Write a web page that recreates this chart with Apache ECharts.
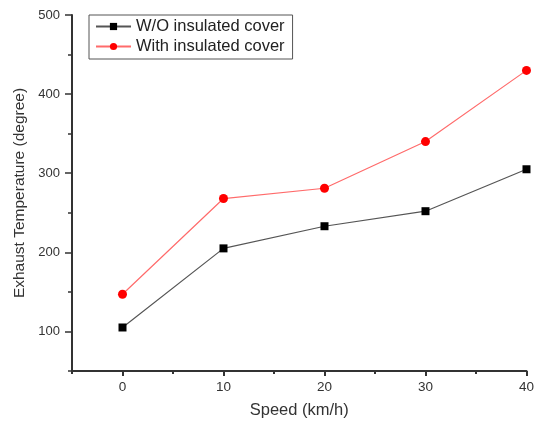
<!DOCTYPE html>
<html>
<head>
<meta charset="utf-8">
<script src="https://cdn.jsdelivr.net/npm/echarts@6/dist/echarts.min.js"></script>
<style>html,body{margin:0;padding:0;background:#fff;}#c{width:537px;height:424px;}</style>
</head>
<body>
<div id="c"></div>
<script>
const speeds = [0, 10, 20, 30, 40];
const withoutCover = [105, 205, 233, 252, 305];
const withCover = [147, 268, 281, 340, 430];
const xMajor = [0, 10, 20, 30, 40];
const xMinor = [-5, 5, 15, 25, 35];
const yMajor = [100, 200, 300, 400, 500];
const yMinor = [50, 150, 250, 350, 450];
const seriesNames = ['W/O insulated cover', 'With insulated cover'];

const FONT = '"Liberation Sans", Arial, sans-serif';
const AX = '#333';
const chart = echarts.init(document.getElementById('c'), null, {renderer: 'canvas'});

function pairs(ys) { return speeds.map((s, i) => [s, ys[i]]); }

chart.setOption({
  animation: false,
  backgroundColor: '#fff',
  textStyle: {fontFamily: FONT},
  grid: {left: 72, top: 15, right: 8, bottom: 51, containLabel: false},
  legend: {
    orient: 'vertical', left: 89, top: 15,
    borderColor: '#555', borderWidth: 1, padding: [3, 8, 4, 6],
    itemWidth: 35, itemHeight: 9, itemGap: 3,
    textStyle: {fontSize: 16.5, color: '#222', fontFamily: FONT, lineHeight: 16},
    data: seriesNames
  },
  xAxis: [{
    type: 'value', min: -5, max: 40,
    name: 'Speed (km/h)', nameLocation: 'middle', nameGap: 31,
    nameTextStyle: {fontSize: 16.5, color: '#333', fontFamily: FONT},
    axisLine: {show: true, onZero: false, lineStyle: {color: AX, width: 2}},
    axisTick: {show: true, inside: false, length: 5, customValues: xMajor, lineStyle: {color: AX, width: 2}},
    axisLabel: {show: true, customValues: xMajor, fontSize: 13.5, color: '#333', margin: 9, fontFamily: FONT},
    splitLine: {show: false}
  }, {
    type: 'value', min: -5, max: 40, position: 'bottom',
    axisLine: {show: false, onZero: false},
    axisTick: {show: true, inside: false, length: 3, customValues: xMinor, lineStyle: {color: AX, width: 2}},
    axisLabel: {show: false},
    splitLine: {show: false}
  }],
  yAxis: [{
    type: 'value', min: 50, max: 500,
    name: 'Exhaust Temperature (degree)', nameLocation: 'middle', nameGap: 42, nameRotate: 90,
    nameTextStyle: {fontSize: 15.5, color: '#333', fontFamily: FONT},
    axisLine: {show: true, onZero: false, lineStyle: {color: AX, width: 2}},
    axisTick: {show: true, inside: false, length: 7, customValues: yMajor, lineStyle: {color: AX, width: 1.5}},
    axisLabel: {show: true, customValues: yMajor, fontSize: 13, color: '#333', margin: 12, fontFamily: FONT},
    splitLine: {show: false}
  }, {
    type: 'value', min: 50, max: 500, position: 'left',
    axisLine: {show: false, onZero: false},
    axisTick: {show: true, inside: false, length: 4, customValues: yMinor, lineStyle: {color: AX, width: 1.5}},
    axisLabel: {show: false},
    splitLine: {show: false}
  }],
  series: [{
    name: seriesNames[0], type: 'line', xAxisIndex: 0, yAxisIndex: 0,
    data: pairs(withoutCover),
    symbol: 'rect', symbolSize: 8,
    itemStyle: {color: '#000'},
    lineStyle: {color: '#555', width: 1.2}
  }, {
    name: seriesNames[1], type: 'line', xAxisIndex: 0, yAxisIndex: 0,
    data: pairs(withCover),
    symbol: 'circle', symbolSize: 9,
    itemStyle: {color: '#ff0000'},
    lineStyle: {color: '#ff6b6b', width: 1.2}
  }]
});
</script>
</body>
</html>
